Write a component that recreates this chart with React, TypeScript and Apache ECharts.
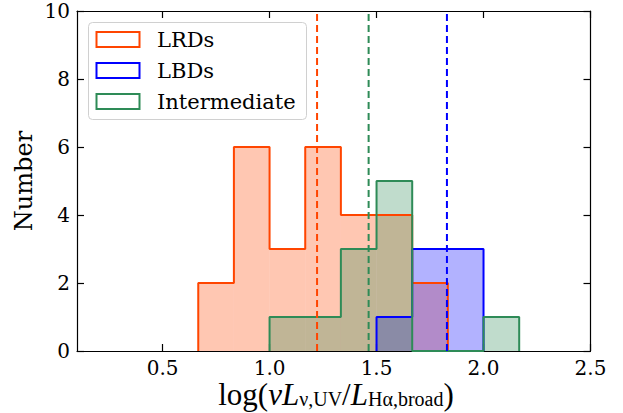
import React, { useEffect, useRef } from 'react';
import * as echarts from 'echarts';

const binEdges = [0.6667, 0.8333, 1.0, 1.1667, 1.3333, 1.5, 1.6667, 1.8333, 2.0, 2.1667];
const lrdCounts = [2, 6, 3, 6, 4, 4, 2, 0, 0];
const lbdCounts = [0, 0, 0, 0, 0, 1, 3, 3, 0];
const intCounts = [0, 0, 1, 1, 3, 5, 0, 0, 1];
const medianValues = [1.222, 1.829, 1.463];
const seriesNames = ['LRDs', 'LBDs', 'Intermediate'];
const seriesColors = ['#FF4500', '#0000FF', '#2E8B57'];
const fillColors = ['rgba(255,69,0,0.3)', 'rgba(0,0,255,0.3)', 'rgba(46,139,87,0.3)'];
const xTickValues = [0.5, 1.0, 1.5, 2.0, 2.5];
const allCounts = [lrdCounts, lbdCounts, intCounts];

const FONT = "'DejaVu Serif', serif";
const MATH = "'Liberation Serif', 'DejaVu Serif', serif";

function binsData(counts: number[]) {
  return counts
    .map((c, i) => [binEdges[i], binEdges[i + 1], c])
    .filter((d) => d[2] > 0);
}

function outline(counts: number[]) {
  const f = counts.findIndex((c) => c > 0);
  let l = counts.length - 1;
  while (l > 0 && counts[l] === 0) l--;
  const pts: number[][] = [[binEdges[f], 0]];
  for (let i = f; i <= l; i++) {
    pts.push([binEdges[i], counts[i]]);
    pts.push([binEdges[i + 1], counts[i]]);
  }
  pts.push([binEdges[l + 1], 0]);
  return pts;
}

export default function App() {
  const ref = useRef<HTMLDivElement>(null);
  useEffect(() => {
    if (!ref.current) return;
    const chart = echarts.init(ref.current, null, { renderer: 'svg' });
    const series: any[] = [];
    allCounts.forEach((counts, k) => {
      series.push({
        type: 'custom',
        name: seriesNames[k] + ' fill',
        xAxisIndex: 0,
        yAxisIndex: 0,
        z: 2 + k * 0.1,
        data: binsData(counts),
        renderItem: (params: any, api: any) => {
          const p0 = api.coord([api.value(0), api.value(2)]);
          const p1 = api.coord([api.value(1), 0]);
          return {
            type: 'rect',
            shape: { x: p0[0], y: p0[1], width: p1[0] - p0[0], height: p1[1] - p0[1] },
            style: { fill: fillColors[k] },
          };
        },
      });
    });
    allCounts.forEach((counts, k) => {
      series.push({
        type: 'line',
        name: seriesNames[k],
        xAxisIndex: 0,
        yAxisIndex: 0,
        z: 3 + k * 0.1,
        symbol: 'none',
        data: outline(counts),
        lineStyle: { color: seriesColors[k], width: 2 },
      });
    });
    medianValues.forEach((m, k) => {
      series.push({
        type: 'line',
        name: seriesNames[k] + ' median',
        xAxisIndex: 0,
        yAxisIndex: 0,
        z: 4,
        symbol: 'none',
        data: [[m, 0], [m, 10]],
        lineStyle: { color: seriesColors[k], width: 2, type: [7, 4] },
      });
    });

    const axisLine = { show: true, onZero: false, lineStyle: { color: '#000', width: 1.2 } };
    const tickStyle = { color: '#000', width: 1.2 };
    const legendRows = [39.5, 70.5, 101.5];
    const graphic: any[] = [
      {
        type: 'rect',
        z: 10,
        shape: { x: 88.5, y: 22.5, width: 218, height: 97, r: 4 },
        style: { fill: 'rgba(255,255,255,0.8)', stroke: '#d0d0d0', lineWidth: 1 },
      },
    ];
    legendRows.forEach((y, k) => {
      graphic.push({
        type: 'rect',
        z: 11,
        shape: { x: 96.5, y: y - 7.5, width: 43, height: 15 },
        style: { fill: 'none', stroke: seriesColors[k], lineWidth: 2 },
      });
      graphic.push({
        type: 'text',
        z: 11,
        x: 157,
        y: y,
        style: {
          text: seriesNames[k],
          fontFamily: FONT,
          fontSize: 21,
          fill: '#000',
          align: 'left',
          verticalAlign: 'middle',
        },
      });
    });
    graphic.push({
      type: 'text',
      x: 24,
      y: 181,
      rotation: Math.PI / 2,
      style: {
        text: 'Number',
        fontFamily: FONT,
        fontSize: 24,
        fill: '#000',
        align: 'center',
        verticalAlign: 'middle',
      },
    });
    const mainTok = { fontFamily: MATH, fontSize: 31, lineHeight: 30, fill: '#000', color: '#000' };
    const itTok = { ...mainTok, fontStyle: 'italic' };
    const subTok = { fontFamily: MATH, fontSize: 20, lineHeight: 14, fill: '#000', color: '#000', verticalAlign: 'bottom' };
    graphic.push({
      type: 'text',
      x: 336,
      y: 394,
      style: {
        text: '{n|log(}{i|νL}{s|ν,UV}{n|/}{i|L}{s|Hα,broad}{n|)}',
        align: 'center',
        verticalAlign: 'middle',
        rich: { n: mainTok, i: itTok, s: subTok },
      },
    });

    chart.setOption({
      animation: false,
      textStyle: { fontFamily: FONT },
      grid: { left: 77, right: 32.5, top: 11, bottom: 62, containLabel: false },
      xAxis: [
        {
          type: 'value',
          min: 0.1,
          max: 2.5,
          position: 'bottom',
          axisLine,
          axisTick: { show: true, inside: true, length: 7, customValues: xTickValues, lineStyle: tickStyle },
          axisLabel: {
            show: true,
            customValues: xTickValues,
            formatter: (v: number) => v.toFixed(1),
            fontFamily: FONT,
            fontSize: 20,
            lineHeight: 20,
            color: '#000',
            margin: 7,
            showMaxLabel: true,
          },
          splitLine: { show: false },
        },
        {
          type: 'value',
          min: 0.1,
          max: 2.5,
          position: 'top',
          axisLine,
          axisTick: { show: true, inside: true, length: 7, customValues: xTickValues, lineStyle: tickStyle },
          axisLabel: { show: false },
          splitLine: { show: false },
        },
      ],
      yAxis: [
        {
          type: 'value',
          min: 0,
          max: 10,
          interval: 2,
          position: 'left',
          axisLine,
          axisTick: { show: true, inside: true, length: 7, lineStyle: tickStyle },
          axisLabel: { fontFamily: FONT, fontSize: 20, color: '#000', margin: 7 },
          splitLine: { show: false },
        },
        {
          type: 'value',
          min: 0,
          max: 10,
          interval: 2,
          position: 'right',
          axisLine,
          axisTick: { show: true, inside: true, length: 7, lineStyle: tickStyle },
          axisLabel: { show: false },
          splitLine: { show: false },
        },
      ],
      series,
      graphic,
    });
    return () => chart.dispose();
  }, []);
  return (
    <div
      ref={ref}
      style={{ position: 'fixed', left: 0, top: 0, width: 623, height: 413, background: '#fff' }}
    />
  );
}
